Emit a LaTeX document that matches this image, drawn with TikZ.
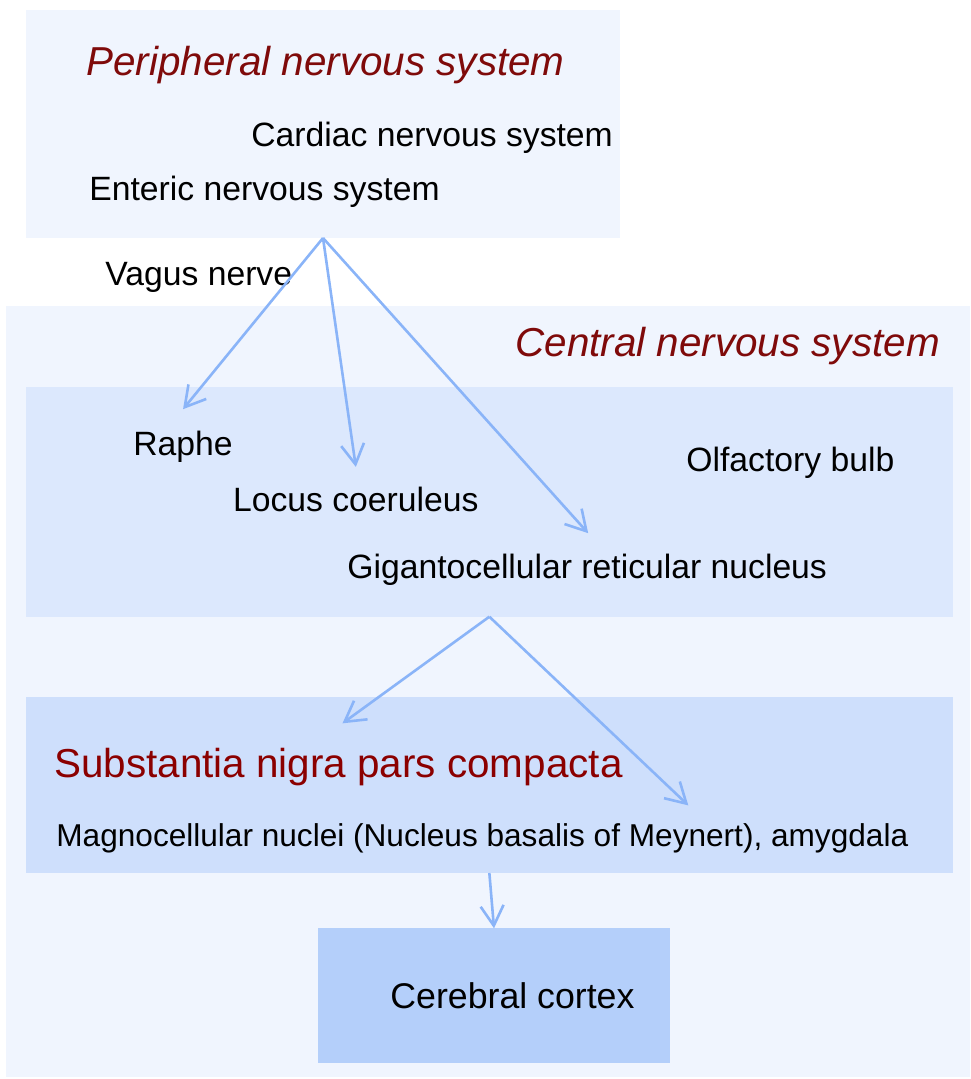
\documentclass[tikz,border=0pt]{standalone}
\usepackage{fontspec}
\setmainfont{Liberation Sans}
\usetikzlibrary{arrows.meta}
\definecolor{paleblue}{HTML}{F0F5FE}
\definecolor{lightblue}{HTML}{DCE8FD}
\definecolor{midblue}{HTML}{CEDFFC}
\definecolor{deepblue}{HTML}{B4CFFA}
\definecolor{linkblue}{HTML}{8AB4F8}
\definecolor{titlered}{HTML}{7F0A0A}
\definecolor{nigrared}{HTML}{8B0000}
\begin{document}
\begin{tikzpicture}[x=0.5pt,y=-0.5pt,
  region/.style={draw=none,inner sep=0,outer sep=0},
  lbl/.style={anchor=base west,inner sep=0,font=\fontsize{16.85pt}{20pt}\selectfont},
  head/.style={anchor=base west,inner sep=0,font=\fontsize{20.2pt}{24pt}\selectfont\itshape,text=titlered},
  link/.style={draw=linkblue,line width=1.3pt,-{Straight Barb[length=10pt,width=11.5pt]}}]
\useasboundingbox (0,0) rectangle (970,1079);
% regions
\node[region,fill=paleblue,minimum width=297pt,minimum height=114pt] (pns) at (323,124) {};
\node[region,fill=paleblue,minimum width=482pt,minimum height=385.5pt] (cns) at (488,691.5) {};
\node[region,fill=lightblue,minimum width=463.35pt,minimum height=114.85pt] (brainstem) at (489.35,501.85) {};
\node[region,fill=midblue,minimum width=463.35pt,minimum height=87.85pt] (forebrain) at (489.35,785.15) {};
\node[region,fill=deepblue,minimum width=176pt,minimum height=67.35pt] (cortex) at (494,995.65) {};
% texts
\node[head] (pnstitle) at (86,76) {Peripheral nervous system};
\node[lbl] (cardiac) at (251,146.7) {Cardiac nervous system};
\node[lbl] (enteric) at (89,201) {Enteric nervous system};
\node[lbl] (vagus) at (105,286) {Vagus nerve};
\node[head] (cnstitle) at (515,356.7) {Central nervous system};
\node[lbl] (raphe) at (133,455) {Raphe};
\node[lbl] (locus) at (232.7,511.7) {Locus coeruleus};
\node[lbl] (olfactory) at (686,471.7) {Olfactory bulb};
\node[lbl] (giganto) at (347,578) {Gigantocellular reticular nucleus};
\node[lbl,font=\fontsize{20.2pt}{24pt}\selectfont,text=nigrared] (nigra) at (54,777) {Substantia nigra pars compacta};
\node[lbl,font=\fontsize{15.8pt}{19pt}\selectfont] (magno) at (56,846.7) {Magnocellular nuclei (Nucleus basalis of Meynert), amygdala};
\node[lbl,font=\fontsize{17.85pt}{21pt}\selectfont] (cortexlabel) at (390,1008) {Cerebral cortex};
% projections
\draw[link] (pns.south) -- ([shift={(0,-21)}]raphe.north);
\draw[link] (pns.south) -- ([shift={(0,-20)}]locus.north);
\draw[link] (pns.south) -- ([shift={(1,-20)}]giganto.north);
\draw[link] (brainstem.south) -- ([shift={(4,-24)}]nigra.north);
\draw[link] (brainstem.south) -- ([shift={(206,-18)}]magno.north);
\draw[link] (forebrain.south) -- (cortex.north);
\end{tikzpicture}
\end{document}
